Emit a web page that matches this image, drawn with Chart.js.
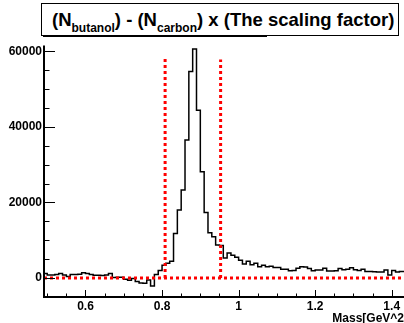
<!DOCTYPE html>
<html>
<head>
<meta charset="utf-8">
<script src="https://cdn.jsdelivr.net/npm/chart.js@4.4.1/dist/chart.umd.min.js"></script>
<style>
  html, body { margin: 0; padding: 0; background: #fff; }
  #wrap { position: relative; width: 404px; height: 323px; overflow: hidden; }
  #c { position: absolute; left: 0; top: 0; }
  #title {
    position: absolute; left: 41px; top: 3px; width: 358px; height: 33px;
    box-sizing: border-box; border: 1px solid #000; background: #fff;
    font: bold 18.5px 'Liberation Sans', Arial, Helvetica, sans-serif;
    white-space: nowrap; padding: 1px 0 0 10px; line-height: 30px; color: #000;
  }
  #title sub { font-size: 12px; line-height: 0; vertical-align: -6px; }
  #shadow { position: absolute; left: 43px; top: 35px; width: 224px; height: 2px; background: #000; }
</style>
</head>
<body>
<div id="wrap">
  <canvas id="c" width="404" height="323"></canvas>
  <div id="shadow"></div>
  <div id="title">(N<sub>butanol</sub>) - (N<sub>carbon</sub>) x (The scaling factor)</div>
</div>
<script>
// ---- data ----
const binLowEdges = [
  0.49,0.50,0.51,0.52,0.53,0.54,0.55,0.56,0.57,0.58,0.59,
  0.60,0.61,0.62,0.63,0.64,0.65,0.66,0.67,0.68,0.69,
  0.70,0.71,0.72,0.73,0.74,0.75,0.76,0.77,0.78,0.79,
  0.80,0.81,0.82,0.83,0.84,0.85,0.86,0.87,0.88,0.89,
  0.90,0.91,0.92,0.93,0.94,0.95,0.96,0.97,0.98,0.99,
  1.00,1.01,1.02,1.03,1.04,1.05,1.06,1.07,1.08,1.09,
  1.10,1.11,1.12,1.13,1.14,1.15,1.16,1.17,1.18,1.19,
  1.20,1.21,1.22,1.23,1.24,1.25,1.26,1.27,1.28,1.29,
  1.30,1.31,1.32,1.33,1.34,1.35,1.36,1.37,1.38,1.39,
  1.40,1.41,1.42,1.43
];
const lastBinUpEdge = 1.44;
const counts = [
  1000,1200,800,800,900,1200,800,400,950,950,1000,
  1400,1200,900,700,700,650,800,1200,100,200,
  200,-300,-600,-100,-900,-1300,-1400,-500,-2100,900,
  2000,3400,3900,4400,11800,18000,23300,36500,54600,60600,
  44400,28100,17300,12000,10900,8700,8600,5300,6600,6000,
  5500,4700,3700,4400,3500,3900,3000,3400,3000,3100,
  2800,2800,2300,2300,1900,2000,2600,3000,2900,2500,
  1900,2100,2100,2600,1850,1850,1900,2500,2200,2300,
  2700,2200,2000,2300,1700,1750,1650,1600,1600,2100,
  800,2000,1600,1700
];
// selection cut lines (red dotted)
const cutLow = 0.808, cutLowTop = 58300;
const cutHigh = 0.953, cutHighTop = 57800;

// axes
const xMin = 0.4916, xMax = 1.4321;
const yMin = -5026, yMax = 61508;
const xMajorTicks = [0.6, 0.8, 1.0, 1.2, 1.4];
const xTickLabels = ['0.6', '0.8', '1', '1.2', '1.4'];
const xMinorTicks = [0.5,0.55,0.6,0.65,0.7,0.75,0.8,0.85,0.9,0.95,1.0,1.05,1.1,1.15,1.2,1.25,1.3,1.35,1.4];
const yMajorTicks = [0, 20000, 40000, 60000];
const yTickLabels = ['0', '20000', '40000', '60000'];
const yMinorTicks = [0,5000,10000,15000,20000,25000,30000,35000,40000,45000,50000,55000,60000];
const xTitle = 'Mass[GeV^2';

// ---- build datasets ----
const histPoints = binLowEdges.map((e, i) => ({ x: e, y: counts[i] }));
histPoints.push({ x: lastBinUpEdge, y: counts[counts.length - 1] });

const FONT = { family: "'Liberation Sans', Arial, Helvetica, sans-serif", size: 12, weight: 'bold' };

const rootAxes = {
  id: 'rootAxes',
  afterDatasetsDraw(chart) {
    const { ctx, chartArea: a, scales: { x, y } } = chart;
    ctx.save();
    ctx.strokeStyle = '#000';
    ctx.lineWidth = 1;
    ctx.beginPath();
    yMinorTicks.forEach(v => {
      const p = Math.round(y.getPixelForValue(v)) + 0.5;
      const len = yMajorTicks.includes(v) ? 11 : 5.5;
      ctx.moveTo(a.left, p); ctx.lineTo(a.left + len, p);
    });
    xMinorTicks.forEach(v => {
      const p = Math.round(x.getPixelForValue(v)) + 0.5;
      const major = xMajorTicks.some(m => Math.abs(m - v) < 1e-9);
      const len = major ? 7 : 3.5;
      ctx.moveTo(p, a.bottom); ctx.lineTo(p, a.bottom - len);
    });
    ctx.stroke();
    ctx.lineWidth = 2;
    ctx.beginPath();
    ctx.moveTo(a.left, a.top);
    ctx.lineTo(a.left, a.bottom);
    ctx.lineTo(a.right + 2, a.bottom);
    ctx.stroke();
    ctx.restore();
  }
};

const redDot = { borderColor: '#ff0000', borderWidth: 3, borderDash: [3, 3], pointRadius: 0, fill: false, order: 0 };

new Chart(document.getElementById('c'), {
  type: 'line',
  data: {
    datasets: [
      Object.assign({ label: 'zero', data: [{ x: xMin, y: 0 }, { x: xMax, y: 0 }] }, redDot),
      Object.assign({ label: 'cut low', data: [{ x: cutLow, y: 0 }, { x: cutLow, y: cutLowTop }] }, redDot),
      Object.assign({ label: 'cut high', data: [{ x: cutHigh, y: 0 }, { x: cutHigh, y: cutHighTop }] }, redDot),
      {
        label: 'hist', data: histPoints, stepped: 'after',
        borderColor: '#000', borderWidth: 1.5, pointRadius: 0, fill: false, order: 1
      }
    ]
  },
  options: {
    responsive: false,
    animation: false,
    layout: { padding: { top: 45.5, right: 0, left: 0, bottom: 0 } },
    plugins: { legend: { display: false }, tooltip: { enabled: false }, title: { display: false } },
    scales: {
      x: {
        type: 'linear', min: xMin, max: xMax,
        grid: { display: false, drawTicks: false }, border: { display: false },
        afterBuildTicks: s => { s.ticks = xMajorTicks.map(v => ({ value: v })); },
        ticks: { callback: (v, i) => xTickLabels[i], font: FONT, color: '#000', padding: 2, maxRotation: 0, autoSkip: false },
        title: { display: true, text: xTitle, align: 'end', font: FONT, color: '#000', padding: { top: 0, bottom: -2.5 } },
        afterFit: s => { s.height = 26; }
      },
      y: {
        type: 'linear', min: yMin, max: yMax,
        grid: { display: false, drawTicks: false }, border: { display: false },
        afterBuildTicks: s => { s.ticks = yMajorTicks.map(v => ({ value: v })); },
        ticks: { callback: (v, i) => yTickLabels[i], font: FONT, color: '#000', padding: 2, autoSkip: false },
        afterFit: s => { s.width = 44; }
      }
    }
  },
  plugins: [rootAxes]
});
</script>
</body>
</html>
